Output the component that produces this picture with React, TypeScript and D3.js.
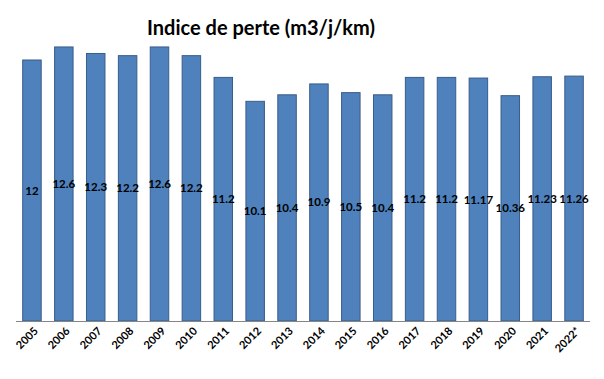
import React from "react";
import * as d3 from "d3";

const categories = ["2005","2006","2007","2008","2009","2010","2011","2012","2013","2014","2015","2016","2017","2018","2019","2020","2021","2022*"];
const values = [12, 12.6, 12.3, 12.2, 12.6, 12.2, 11.2, 10.1, 10.4, 10.9, 10.5, 10.4, 11.2, 11.2, 11.17, 10.36, 11.23, 11.26];
const valueLabels = ["12","12.6","12.3","12.2","12.6","12.2","11.2","10.1","10.4","10.9","10.5","10.4","11.2","11.2","11.17","10.36","11.23","11.26"];
const title = "Indice de perte (m3/j/km)";

export default function App() {
  const W = 604, H = 379;
  const x = d3.scaleBand<string>().domain(categories).range([16, 590]).paddingInner(0.42).paddingOuter(0.21);
  const y = d3.scaleLinear().domain([0, 14]).range([321, 16.5]);
  const font = "Lato, 'Open Sans', sans-serif";
  return (
    <svg width={W} height={H} style={{ position: "absolute", left: 0, top: 0, background: "#fff" }}>
      <text x={261} y={35} textAnchor="middle" fontFamily={font} fontWeight="bold" fontSize={20} fill="#000">{title}</text>
      {categories.map((c, i) => {
        const bx = x(c)!;
        const bw = x.bandwidth();
        const top = y(values[i]);
        return (
          <g key={c}>
            <rect x={bx} y={top} width={bw} height={y(0) - top} fill="#4f81bd" stroke="#385d8a" strokeWidth={1} />
            <text x={bx + bw / 2} y={(top + y(0)) / 2} dy="0.35em" textAnchor="middle" fontFamily={font} fontWeight="bold" fontSize={11.5} fill="#000">{valueLabels[i]}</text>
            <text transform={`translate(${bx + bw / 2 + 4},${y(0) + 8}) rotate(-45)`} textAnchor="end" dy="0.35em" fontFamily={font} fontWeight="bold" fontSize={11} fill="#000">{c}</text>
          </g>
        );
      })}
      <line x1={16} x2={590} y1={y(0) + 0.5} y2={y(0) + 0.5} stroke="#868686" strokeWidth={1} />
    </svg>
  );
}
